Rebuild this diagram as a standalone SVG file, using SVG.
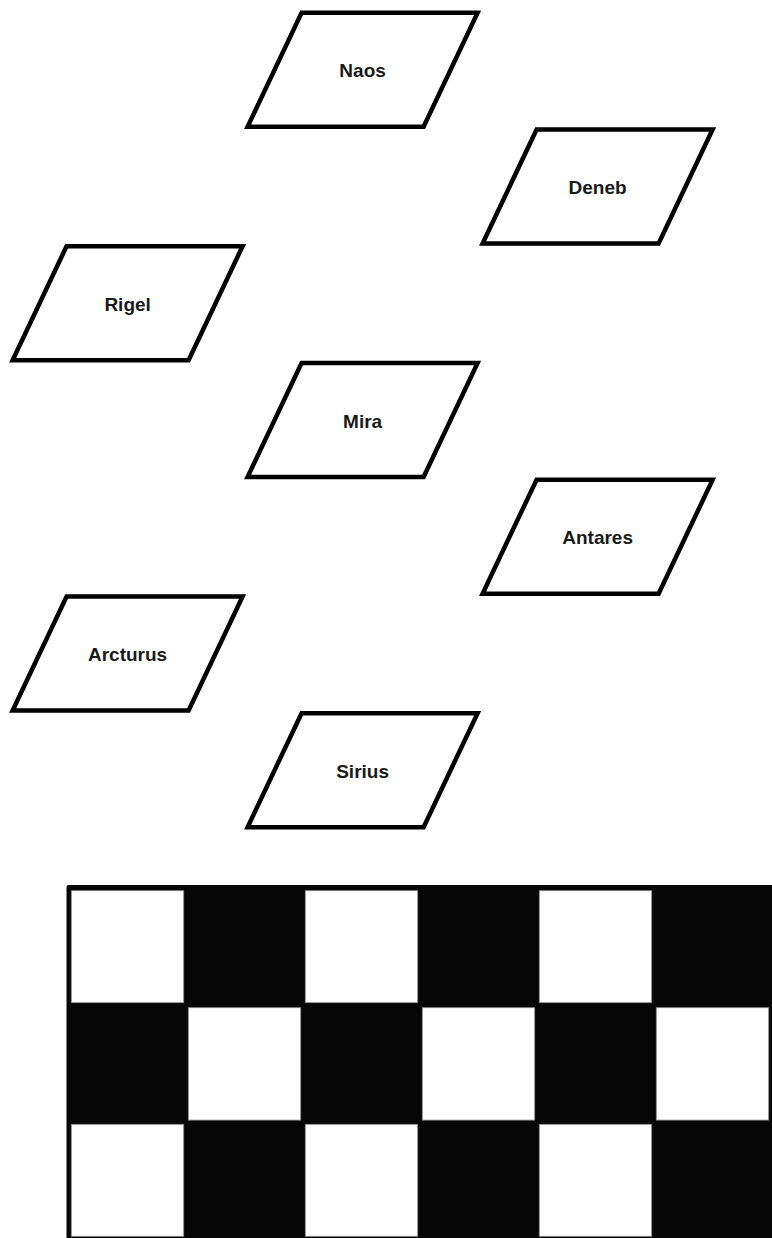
<svg xmlns="http://www.w3.org/2000/svg" width="772" height="1238" viewBox="0 0 772 1238">
<style>
.shape{fill:#ffffff;stroke:#000000;stroke-width:4.5;stroke-linejoin:miter}
.lbl{font-family:"Liberation Sans",Arial,sans-serif;font-size:19px;font-weight:bold;fill:#1a1a1a;text-anchor:middle}
.cell{fill:#ffffff;stroke:#8a8a8a;stroke-width:0.8}
</style>
<defs>
<path id="para" d="M -61 -57 L 115 -57 L 61 57 L -115 57 Z"/>
</defs>
<rect width="772" height="1238" fill="#ffffff"/>
<g id="node-naos" transform="translate(362.6,69.7)"><use href="#para" class="shape"/><text class="lbl" x="0" y="7.5">Naos</text></g>
<g id="node-deneb" transform="translate(597.6,186.5)"><use href="#para" class="shape"/><text class="lbl" x="0" y="7.5">Deneb</text></g>
<g id="node-rigel" transform="translate(127.6,303.2)"><use href="#para" class="shape"/><text class="lbl" x="0" y="7.5">Rigel</text></g>
<g id="node-mira" transform="translate(362.6,420)"><use href="#para" class="shape"/><text class="lbl" x="0" y="7.5">Mira</text></g>
<g id="node-antares" transform="translate(597.6,536.7)"><use href="#para" class="shape"/><text class="lbl" x="0" y="7.5">Antares</text></g>
<g id="node-arcturus" transform="translate(127.6,653.5)"><use href="#para" class="shape"/><text class="lbl" x="0" y="7.5">Arcturus</text></g>
<g id="node-sirius" transform="translate(362.6,770.2)"><use href="#para" class="shape"/><text class="lbl" x="0" y="7.5">Sirius</text></g>
<g id="connectors"></g>
<g id="checkerboard">
<rect x="66.5" y="885" width="710" height="360" rx="2" fill="#060606"/>
<rect class="cell" x="71.3" y="890.7" width="112.4" height="112"/>
<rect class="cell" x="305.3" y="890.7" width="112.4" height="112"/>
<rect class="cell" x="539.3" y="890.7" width="112.4" height="112"/>
<rect class="cell" x="188.3" y="1007.7" width="112.4" height="112.4"/>
<rect class="cell" x="422.3" y="1007.7" width="112.4" height="112.4"/>
<rect class="cell" x="656.3" y="1007.7" width="112.4" height="112.4"/>
<rect class="cell" x="71.3" y="1124.3" width="112.4" height="112"/>
<rect class="cell" x="305.3" y="1124.3" width="112.4" height="112"/>
<rect class="cell" x="539.3" y="1124.3" width="112.4" height="112"/>
</g>
</svg>
